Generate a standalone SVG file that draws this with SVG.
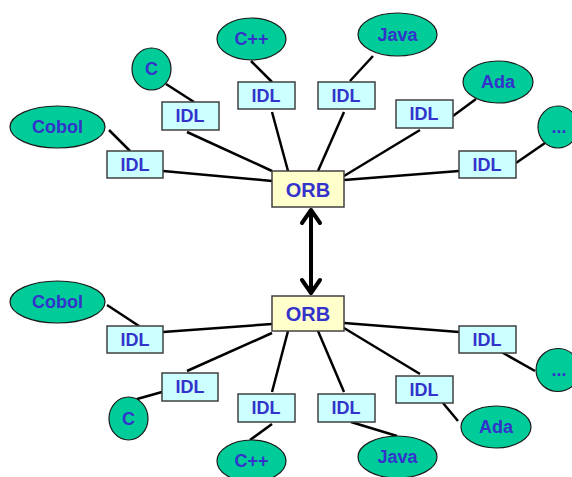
<svg xmlns="http://www.w3.org/2000/svg" width="572" height="477" viewBox="0 0 572 477">
<style>
.lang ellipse{fill:#00CC99;stroke:#1a1a1a;stroke-width:1.2}
.idl rect{fill:#CCFFFF;stroke:#404040;stroke-width:1.5}
.orb rect{fill:#FFFFCC;stroke:#404040;stroke-width:1.5}
text{font-family:"Liberation Sans",Arial,sans-serif;font-weight:bold;fill:#3333CC;text-anchor:middle;dominant-baseline:central;font-size:18px}
.orb text{font-size:20px}
#connectors line{stroke:#000;stroke-width:2.5}
</style>
<rect width="572" height="477" fill="#fff"/>
<g id="connectors">
<!-- top -->
<line x1="109" y1="130" x2="130" y2="151"/>
<line x1="163" y1="171" x2="272" y2="181"/>
<line x1="166" y1="84" x2="194" y2="102"/>
<line x1="187" y1="132" x2="272" y2="171"/>
<line x1="251" y1="61" x2="272" y2="82"/>
<line x1="272" y1="112" x2="288" y2="171"/>
<line x1="373" y1="56" x2="350" y2="81"/>
<line x1="344" y1="112" x2="318" y2="171"/>
<line x1="476" y1="99" x2="453" y2="116"/>
<line x1="420" y1="130" x2="344" y2="176"/>
<line x1="545" y1="143" x2="516" y2="163"/>
<line x1="459" y1="171" x2="344" y2="180"/>
<!-- bottom -->
<line x1="107" y1="305" x2="139" y2="326"/>
<line x1="163" y1="332" x2="272" y2="324"/>
<line x1="137" y1="399" x2="162" y2="392"/>
<line x1="187" y1="371" x2="272" y2="333"/>
<line x1="250" y1="440" x2="272" y2="424"/>
<line x1="272" y1="392" x2="288" y2="331"/>
<line x1="351" y1="422" x2="397" y2="436"/>
<line x1="344" y1="392" x2="318" y2="331"/>
<line x1="443" y1="403" x2="458" y2="421"/>
<line x1="420" y1="374" x2="344" y2="328"/>
<line x1="496" y1="349" x2="535" y2="371"/>
<line x1="459" y1="332" x2="344" y2="323"/>
<!-- ORB to ORB -->
<line x1="311" y1="211" x2="311" y2="292" style="stroke-width:4"/>
<polyline points="302,223 311,210 320,223" fill="none" stroke="#000" stroke-width="4" stroke-linecap="round" stroke-linejoin="round"/>
<polyline points="302,280 311,293 320,280" fill="none" stroke="#000" stroke-width="4" stroke-linecap="round" stroke-linejoin="round"/>
</g>
<g id="orb-top" class="orb"><rect x="272" y="171" width="72" height="36"/><text x="308" y="190">ORB</text></g>
<g id="orb-bottom" class="orb"><rect x="272" y="296" width="72" height="35"/><text x="308" y="314">ORB</text></g>
<g id="idl-top-cobol" class="idl"><rect x="107" y="151" width="56" height="27"/><text x="135" y="165">IDL</text></g>
<g id="idl-top-c" class="idl"><rect x="162" y="102" width="57" height="28"/><text x="190" y="116">IDL</text></g>
<g id="idl-top-cpp" class="idl"><rect x="238" y="82" width="57" height="27"/><text x="266" y="96">IDL</text></g>
<g id="idl-top-java" class="idl"><rect x="318" y="82" width="57" height="27"/><text x="346" y="96">IDL</text></g>
<g id="idl-top-ada" class="idl"><rect x="396" y="100" width="57" height="28"/><text x="424" y="114">IDL</text></g>
<g id="idl-top-more" class="idl"><rect x="459" y="151" width="57" height="27"/><text x="487" y="165">IDL</text></g>
<g id="idl-bot-cobol" class="idl"><rect x="107" y="326" width="56" height="27"/><text x="135" y="340">IDL</text></g>
<g id="idl-bot-c" class="idl"><rect x="162" y="373" width="56" height="28"/><text x="190" y="387">IDL</text></g>
<g id="idl-bot-cpp" class="idl"><rect x="238" y="394" width="57" height="28"/><text x="266" y="408">IDL</text></g>
<g id="idl-bot-java" class="idl"><rect x="318" y="394" width="57" height="28"/><text x="346" y="408">IDL</text></g>
<g id="idl-bot-ada" class="idl"><rect x="396" y="376" width="57" height="27"/><text x="424" y="390">IDL</text></g>
<g id="idl-bot-more" class="idl"><rect x="459" y="326" width="57" height="27"/><text x="487" y="340">IDL</text></g>
<g id="top-cobol" class="lang"><ellipse cx="57.5" cy="127" rx="47.5" ry="21"/><text x="57.5" y="127">Cobol</text></g>
<g id="top-c" class="lang"><ellipse cx="151.5" cy="69" rx="19.5" ry="21"/><text x="151.5" y="69">C</text></g>
<g id="top-cpp" class="lang"><ellipse cx="251.5" cy="39" rx="34.5" ry="21"/><text x="251.5" y="39">C++</text></g>
<g id="top-java" class="lang"><ellipse cx="397.5" cy="34.5" rx="39.5" ry="21.5"/><text x="397.5" y="34.5">Java</text></g>
<g id="top-ada" class="lang"><ellipse cx="498" cy="82" rx="35" ry="21"/><text x="498" y="82">Ada</text></g>
<g id="top-more" class="lang"><ellipse cx="558" cy="127" rx="20" ry="21"/><text x="559" y="127">...</text></g>
<g id="bot-cobol" class="lang"><ellipse cx="57.5" cy="302" rx="47.5" ry="21"/><text x="57.5" y="302">Cobol</text></g>
<g id="bot-c" class="lang"><ellipse cx="128.5" cy="418.5" rx="19.5" ry="21.5"/><text x="128.5" y="418.5">C</text></g>
<g id="bot-cpp" class="lang"><ellipse cx="251.5" cy="461" rx="34.5" ry="21"/><text x="251.5" y="461">C++</text></g>
<g id="bot-java" class="lang"><ellipse cx="397.5" cy="457" rx="39.5" ry="21"/><text x="397.5" y="457">Java</text></g>
<g id="bot-ada" class="lang"><ellipse cx="496" cy="427" rx="35" ry="21"/><text x="496" y="427">Ada</text></g>
<g id="bot-more" class="lang"><ellipse cx="558" cy="370" rx="22" ry="21.5"/><text x="559" y="370">...</text></g>
</svg>
